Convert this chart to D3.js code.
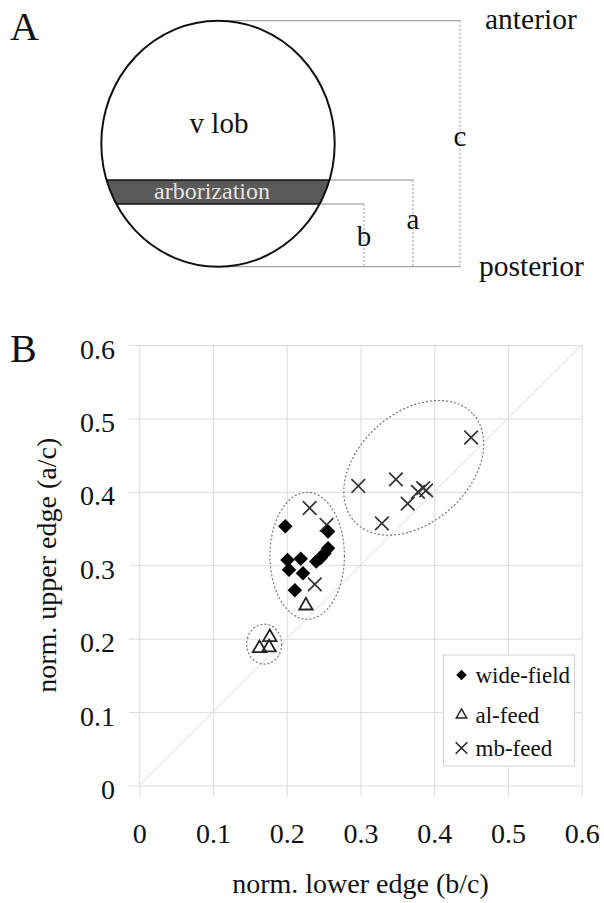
<!DOCTYPE html>
<html>
<head>
<meta charset="utf-8">
<script src="https://cdn.jsdelivr.net/npm/d3@7"></script>
<style>
  body { margin: 0; background: #fff; }
  svg { display: block; }
  text { font-family: "Liberation Serif", "Times New Roman", serif; fill: #111; }
</style>
</head>
<body>
<svg id="chart" width="604" height="903"></svg>
<script>
// data: [norm. lower edge (b/c), norm. upper edge (a/c)]
const wideField = [
  [0.198, 0.353], [0.256, 0.346], [0.256, 0.323], [0.251, 0.316],
  [0.246, 0.310], [0.240, 0.305], [0.219, 0.309], [0.201, 0.307],
  [0.203, 0.294], [0.222, 0.289], [0.211, 0.266]
];
const alFeed = [
  [0.226, 0.245], [0.177, 0.202], [0.163, 0.187], [0.176, 0.188]
];
const mbFeed = [
  [0.231, 0.378], [0.254, 0.355], [0.238, 0.274], [0.297, 0.408],
  [0.348, 0.417], [0.329, 0.357], [0.364, 0.384], [0.378, 0.400],
  [0.385, 0.405], [0.389, 0.402], [0.450, 0.474]
];
// group outlines in data units: [cx, cy, rx, ry, rotation deg]
const groups = [
  [0.1694, 0.1925, 0.0237, 0.0272, 0],
  [0.2277, 0.3129, 0.0505, 0.0865, 0],
  [0.3722, 0.4327, 0.1085, 0.0749, 42]
];
const ticks = [0, 0.1, 0.2, 0.3, 0.4, 0.5, 0.6];
const tickLabels = ["0", "0.1", "0.2", "0.3", "0.4", "0.5", "0.6"];
const legendItems = ["wide-field", "al-feed", "mb-feed"];

const svg = d3.select("#chart");

/* ---------- panel A: schematic ---------- */
const A = svg.append("g");
const lob = { cx: 218, cy: 143.7, rx: 116.7, ry: 123 };
const bandTop = 180, bandBot = 204;
const edgeX = yy => lob.cx + lob.rx * Math.sqrt(1 - Math.pow((yy - lob.cy) / lob.ry, 2));
const lobTop = lob.cy - lob.ry, lobBot = lob.cy + lob.ry;
const xc = 460, xa = 413, xb = 364;

A.append("text").attr("x", 10).attr("y", 40).style("font-size", "40px").text("A");

svg.append("clipPath").attr("id", "lobClip")
  .append("ellipse").attr("cx", lob.cx).attr("cy", lob.cy).attr("rx", lob.rx).attr("ry", lob.ry);

// reference lines
const hLines = [[lob.cx, lobTop, xc], [edgeX(bandTop), bandTop, xa], [edgeX(bandBot), bandBot, xb], [lob.cx, lobBot, xc]];
hLines.forEach(([x1, yy, x2]) => {
  A.append("line").attr("x1", x1).attr("x2", x2).attr("y1", yy).attr("y2", yy)
    .attr("stroke", "#8a8a8a").attr("stroke-width", 1);
});
[[xc, lobTop], [xa, bandTop], [xb, bandBot]].forEach(([xx, y1]) => {
  A.append("line").attr("x1", xx).attr("x2", xx).attr("y1", y1).attr("y2", lobBot)
    .attr("stroke", "#999").attr("stroke-width", 1).attr("stroke-dasharray", "2,2");
});

A.append("rect").attr("x", lob.cx - lob.rx - 2).attr("y", bandTop)
  .attr("width", 2 * lob.rx + 4).attr("height", bandBot - bandTop)
  .attr("clip-path", "url(#lobClip)")
  .attr("fill", "#5a5a5a").attr("stroke", "#111").attr("stroke-width", 1.5);

A.append("ellipse").attr("cx", lob.cx).attr("cy", lob.cy).attr("rx", lob.rx).attr("ry", lob.ry)
  .attr("fill", "none").attr("stroke", "#111").attr("stroke-width", 2);

A.append("text").attr("x", 219).attr("y", 133).attr("text-anchor", "middle")
  .style("font-size", "29px").text("v lob");
A.append("text").attr("x", 212).attr("y", 199).attr("text-anchor", "middle")
  .style("font-size", "24px").style("fill", "#e4e4e4").text("arborization");
A.append("text").attr("x", xc).attr("y", 146).attr("text-anchor", "middle").style("font-size", "29px").text("c");
A.append("text").attr("x", xa).attr("y", 229).attr("text-anchor", "middle").style("font-size", "29px").text("a");
A.append("text").attr("x", xb).attr("y", 246).attr("text-anchor", "middle").style("font-size", "29px").text("b");
A.append("text").attr("x", 485).attr("y", 29).style("font-size", "29.5px").text("anterior");
A.append("text").attr("x", 479).attr("y", 276).style("font-size", "29.5px").text("posterior");

/* ---------- panel B: scatter ---------- */
const x = d3.scaleLinear().domain([0, 0.6]).range([139.3, 581.7]);
const y = d3.scaleLinear().domain([0, 0.6]).range([785.5, 345]);
const B = svg.append("g");

B.append("text").attr("x", 10).attr("y", 362).style("font-size", "40px").text("B");

const gridColor = "#dcdcdc";
const gx = B.append("g").attr("transform", `translate(0,${y(0.6)})`)
  .call(d3.axisBottom(x).tickValues(ticks).tickSize(y(0) - y(0.6) + 11)
    .tickFormat((d, i) => tickLabels[i]));
gx.select(".domain").remove();
gx.selectAll("line").attr("stroke", gridColor);
gx.selectAll("text").attr("y", 843 - y(0.6)).attr("dy", null).style("font-size", "28px");

const gy = B.append("g").attr("transform", `translate(${x(0.6)},0)`)
  .call(d3.axisLeft(y).tickValues(ticks).tickSize(x(0.6) - x(0) + 10)
    .tickFormat((d, i) => tickLabels[i]));
gy.select(".domain").remove();
gy.selectAll("line").attr("stroke", gridColor);
gy.selectAll("text").attr("x", 115 - x(0.6)).attr("dy", "13px").style("font-size", "28px");
svg.selectAll(".tick text").attr("fill", "#111");
gx.attr("font-family", null);
gy.attr("font-family", null);

// identity diagonal
B.append("line").attr("x1", x(0)).attr("y1", y(0)).attr("x2", x(0.6)).attr("y2", y(0.6))
  .attr("stroke", gridColor).attr("stroke-width", 1);

// group outlines
B.selectAll("ellipse.grp").data(groups).join("ellipse").attr("class", "grp")
  .attr("cx", d => x(d[0])).attr("cy", d => y(d[1]))
  .attr("rx", d => x(d[0] + d[2]) - x(d[0]))
  .attr("ry", d => y(d[1]) - y(d[1] + d[3]))
  .attr("transform", d => `rotate(${-d[4]},${x(d[0])},${y(d[1])})`)
  .attr("fill", "none").attr("stroke", "#777").attr("stroke-width", 1.2)
  .attr("stroke-dasharray", "2,2");

const diamond = d3.symbol().type(d3.symbolSquare);
const triangle = d3.symbol().type(d3.symbolTriangle);
const cross = h => `M${-h},${-h}L${h},${h}M${-h},${h}L${h},${-h}`;

B.selectAll("path.mb").data(mbFeed).join("path").attr("class", "mb")
  .attr("d", cross(6.8))
  .attr("transform", d => `translate(${x(d[0])},${y(d[1])})`)
  .attr("stroke", "#333").attr("stroke-width", 1.7).attr("fill", "none");

B.selectAll("path.wf").data(wideField).join("path").attr("class", "wf")
  .attr("d", diamond.size(105)())
  .attr("transform", d => `translate(${x(d[0])},${y(d[1])}) rotate(45)`)
  .attr("fill", "#000");

B.selectAll("path.al").data(alFeed).join("path").attr("class", "al")
  .attr("d", triangle.size(78)())
  .attr("transform", d => `translate(${x(d[0])},${y(d[1])})`)
  .attr("fill", "none").attr("stroke", "#222").attr("stroke-width", 1.8);

// axis titles
B.append("text").attr("x", (x(0) + x(0.6)) / 2).attr("y", 893).attr("text-anchor", "middle")
  .style("font-size", "28px").text("norm. lower edge (b/c)");
B.append("text").attr("transform", `translate(56,${(y(0) + y(0.6)) / 2}) rotate(-90)`)
  .attr("text-anchor", "middle").style("font-size", "28px").text("norm. upper edge (a/c)");

// legend
const leg = B.append("g").attr("transform", "translate(443.5,655)");
leg.append("rect").attr("width", 131).attr("height", 111)
  .attr("fill", "#fff").attr("stroke", "#d4d4d4").attr("stroke-width", 1);
const rowY = [20, 60, 93];
legendItems.forEach((name, i) => {
  const r = leg.append("g").attr("transform", `translate(18,${rowY[i]})`);
  if (i === 0) r.append("path").attr("d", diamond.size(55)()).attr("transform", "rotate(45)").attr("fill", "#000");
  if (i === 1) r.append("path").attr("d", triangle.size(48)()).attr("fill", "none").attr("stroke", "#222").attr("stroke-width", 1.4);
  if (i === 2) r.append("path").attr("d", cross(5.8)).attr("stroke", "#222").attr("stroke-width", 1.5);
  r.append("text").attr("x", 14).attr("y", 8).style("font-size", "23px").text(name);
});
</script>
</body>
</html>
